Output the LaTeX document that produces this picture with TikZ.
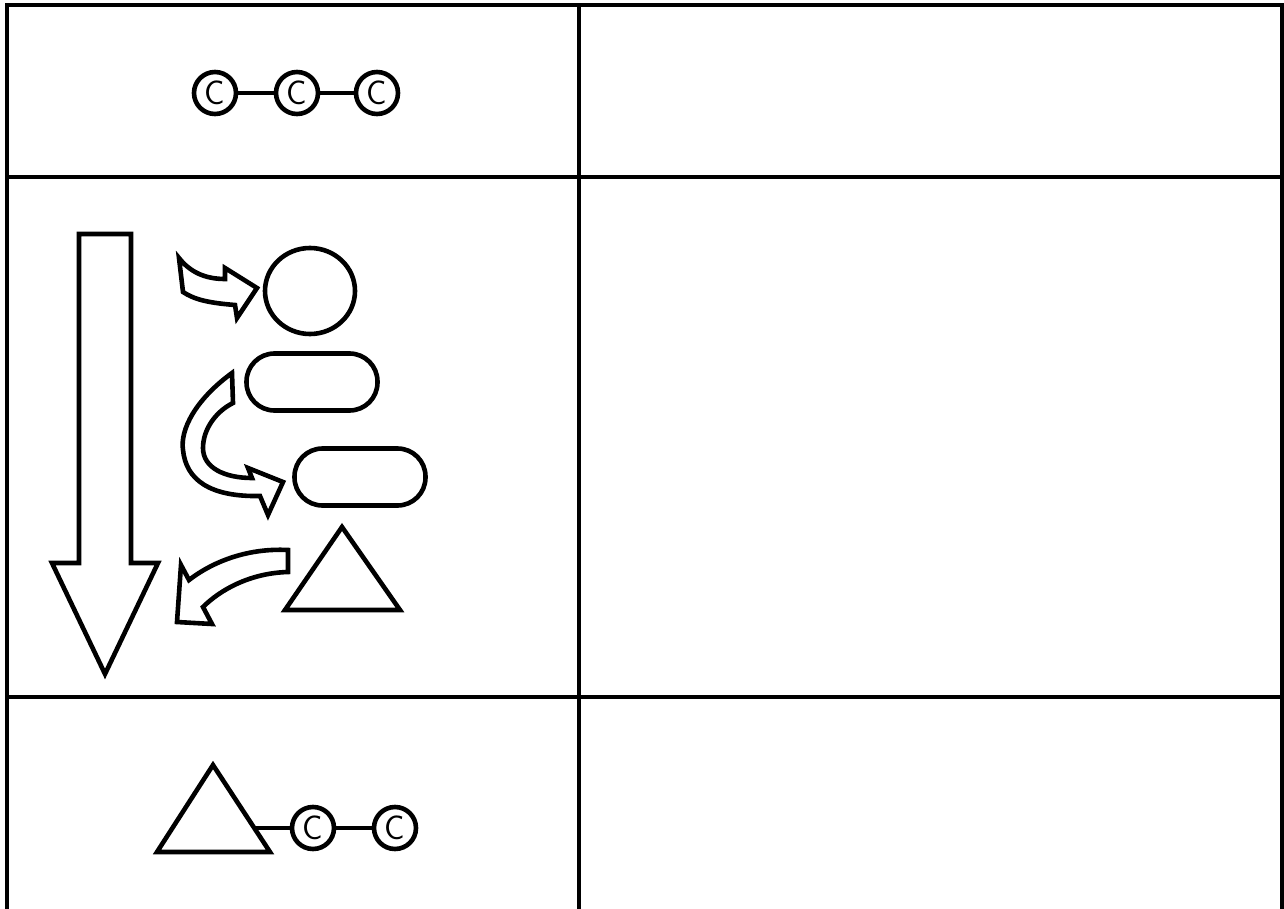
\documentclass[tikz,border=0pt]{standalone}
\usepackage{fontspec}
\usetikzlibrary{shapes.geometric}
\begin{document}
\begin{tikzpicture}[x=1pt, y=-1pt,
    cell/.style={line width=3.2pt, line join=miter},
    outline/.style={line width=4.6pt, line join=miter},
    atom/.style={circle, draw, line width=4.6pt, minimum size=42pt, inner sep=0pt,
        font=\sffamily\fontsize{34}{34}\selectfont},
    pill/.style={draw, rounded corners=28pt, line width=4.6pt,
        minimum width=131pt, minimum height=57pt, inner sep=0pt}]
    \useasboundingbox (0,0) rectangle (1284,909);

    % Table grid
    \draw[cell] (7,909) -- (7,5) -- (1282,5) -- (1282,909);
    \draw[cell] (579,5) -- (579,909);
    \draw[cell] (7,177) -- (1282,177);
    \draw[cell] (7,697) -- (1282,697);

    % Row 1: chain of three
    \node[atom] (c1) at (215,93) {C};
    \node[atom] (c2) at (297,93) {C};
    \node[atom] (c3) at (377,93) {C};
    \draw[outline] (c1) -- (c2);
    \draw[outline] (c2) -- (c3);

    % Row 2: downward arrow
    \draw[outline] (79,234) -- (131,234) -- (131,563) -- (158,563)
        -- (105,674) -- (52,563) -- (79,563) -- cycle;

    % Row 2: shapes
    \node[ellipse, draw, line width=4.6pt, minimum width=90pt, minimum height=86pt] (ball) at (310,291) {};
    \node[pill] (pillA) at (312,382) {};
    \node[pill] (pillB) at (360,477) {};
    \draw[outline] (342,527) -- (400,610) -- (285,610) -- cycle;

    % Row 2: curved block arrows
    \draw[outline] (179,258) .. controls (190,272) and (205,279) .. (225,279)
        -- (225,268) -- (257,288) -- (237,318) -- (235,305)
        .. controls (210,303) and (195,300) .. (183,292) -- cycle;
    \draw[outline] (232,373) .. controls (195,400) and (180,430) .. (183,450)
        .. controls (186,480) and (210,497) .. (260,496)
        -- (268,515) -- (283,482) -- (248,468) -- (252,478)
        .. controls (225,478) and (203,468) .. (203,448)
        .. controls (203,430) and (215,412) .. (233,403) -- cycle;
    \draw[outline] (288,550) .. controls (250,548) and (215,560) .. (189,580)
        -- (181,565) -- (177,622) -- (212,624) -- (203,607)
        .. controls (220,590) and (250,573) .. (288,572) -- cycle;

    % Row 3: triangle with chain of two
    \draw[outline] (213,765) -- (270,852) -- (157,852) -- cycle;
    \coordinate (joint) at (254,828);
    \node[atom] (d1) at (313,828) {C};
    \node[atom] (d2) at (395,828) {C};
    \draw[outline] (joint) -- (d1);
    \draw[outline] (d1) -- (d2);
\end{tikzpicture}
\end{document}
